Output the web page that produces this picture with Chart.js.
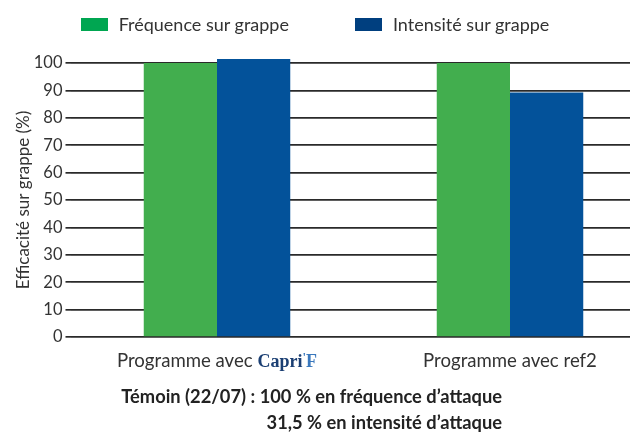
<!DOCTYPE html>
<html>
<head>
<meta charset="utf-8">
<script src="https://cdn.jsdelivr.net/npm/chart.js@4"></script>
<style>
  html, body { margin: 0; padding: 0; background: #fff; }
  #wrap { position: relative; width: 630px; height: 437px; overflow: hidden; }
  #myChart { position: absolute; left: 0; top: 0; }
  .legend { position: absolute; left: 0; top: 14px; width: 630px; display: flex; justify-content: center; gap: 66px;
    font: 18px Lato, sans-serif; color: #333; line-height: 21px; }
  .legend span.item { display: flex; align-items: center; }
  .legend span.box { display: inline-block; width: 27px; height: 13px; margin-right: 11px; }
  .note { position: absolute; left: 0; width: 502px; text-align: right; font: bold 18.3px Lato, sans-serif; color: #222; }
</style>
</head>
<body>
<div id="wrap">
  <canvas id="myChart" width="660" height="437"></canvas>
  <div class="legend" id="legend"></div>
  <div class="note" style="top:385px">Témoin (22/07) : 100 % en fréquence d’attaque</div>
  <div class="note" style="top:411px">31,5 % en intensité d’attaque</div>
</div>
<script>
  const categories = ['Programme avec Capri\'F', 'Programme avec ref2'];
  const frequence = [100, 100];
  const intensite = [101.5, 89.2];
  const yTicks = [0, 10, 20, 30, 40, 50, 60, 70, 80, 90, 100];

  const brand = 'Capri\'F';

  // x labels: draw "Capri'F" like the logo
  const xLabels = {
    id: 'xLabels',
    afterDraw(chart) {
      const ctx = chart.ctx;
      const x = chart.scales.x;
      const y = chart.chartArea.bottom + 24;
      ctx.save();
      ctx.textBaseline = 'middle';
      x.ticks.forEach(function(t, i) {
        const label = chart.data.labels[i];
        const cx = x.getPixelForTick(i);
        const sans = '18.6px Lato, sans-serif';
        const serif = 'bold 18px "Liberation Serif", serif';
        if (label.indexOf(brand) >= 0) {
          const pre = label.replace(brand, '');
          ctx.font = sans;
          const w1 = ctx.measureText(pre).width;
          ctx.font = serif;
          const w2 = ctx.measureText('Capri').width;
          ctx.font = 'bold 13px "Liberation Serif", serif';
          const w3 = ctx.measureText('\'').width;
          ctx.font = serif;
          const w4 = ctx.measureText('F').width;
          let sx = cx - (w1 + w2 + w3 + w4) / 2;
          ctx.textAlign = 'left';
          ctx.font = sans; ctx.fillStyle = '#333';
          ctx.fillText(pre, sx, y); sx += w1;
          ctx.font = serif; ctx.fillStyle = '#1b3f73';
          ctx.fillText('Capri', sx, y + 1); sx += w2;
          ctx.font = 'bold 13px "Liberation Serif", serif'; ctx.fillStyle = '#3a78bd';
          ctx.fillText('\'', sx, y - 3); sx += w3;
          ctx.font = serif; ctx.fillStyle = '#3a78bd';
          ctx.fillText('F', sx, y + 1);
        } else {
          ctx.textAlign = 'center';
          ctx.font = sans; ctx.fillStyle = '#333';
          ctx.fillText(label, cx, y);
        }
      });
      ctx.restore();
    }
  };

  const data = {
    labels: categories,
    datasets: [
      {
        label: 'Fréquence sur grappe',
        backgroundColor: '#42ae4e',
        legendColor: '#00a651',
        data: frequence,
        clip: false
      },
      {
        label: 'Intensité sur grappe',
        backgroundColor: '#03529a',
        legendColor: '#003f7f',
        data: intensite,
        clip: false
      }
    ]
  };

  const config = {
    type: 'bar',
    data: data,
    options: {
      responsive: false,
      animation: false,
      categoryPercentage: 0.5,
      barPercentage: 1,
      layout: { padding: { top: 63, right: 3.5, bottom: 66, left: 0 } },
      plugins: {
        legend: { display: false },
        tooltip: { enabled: false }
      },
      scales: {
        x: {
          grid: { display: false },
          border: { display: false },
          ticks: { color: 'rgba(0,0,0,0)', font: { size: 18, family: 'Lato' }, padding: 12 },
          afterFit(scale) { scale.height = 34; }
        },
        y: {
          min: 0,
          max: 100,
          afterBuildTicks(scale) { scale.ticks = yTicks.map(v => ({ value: v })); },
          grid: { color: '#2a2a2a', lineWidth: 1.7, tickLength: 5, drawTicks: true },
          border: { display: false },
          ticks: { color: '#333', font: { size: 16.5, family: 'Lato' }, padding: 3 },
          title: {
            display: true,
            text: 'Efficacité sur grappe (%)',
            color: '#333',
            font: { size: 17, family: 'Lato' },
            padding: { top: 13, bottom: 0 }
          },
          afterFit(scale) { scale.width = 70.5; }
        }
      }
    },
    plugins: [xLabels]
  };

  const myChart = new Chart(document.getElementById('myChart'), config);

  // html legend from the datasets
  const legend = document.getElementById('legend');
  myChart.data.datasets.forEach(function(ds) {
    const item = document.createElement('span');
    item.className = 'item';
    const box = document.createElement('span');
    box.className = 'box';
    box.style.background = ds.legendColor;
    item.appendChild(box);
    item.appendChild(document.createTextNode(ds.label));
    legend.appendChild(item);
  });
</script>
</body>
</html>
